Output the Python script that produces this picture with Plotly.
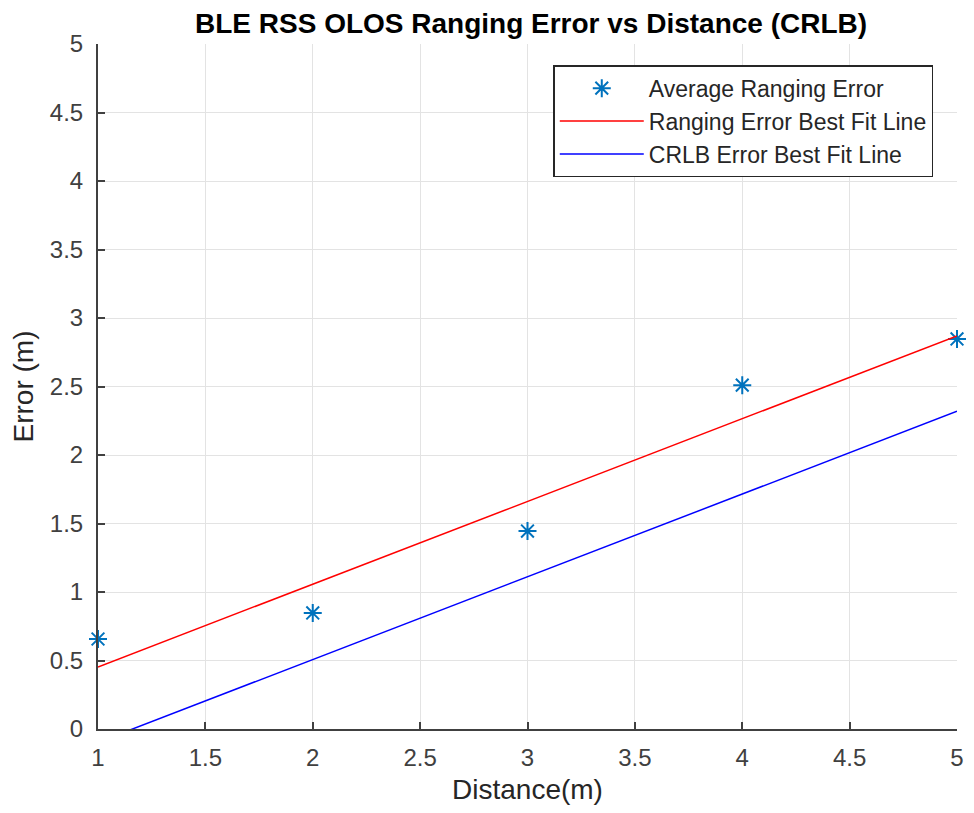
import plotly.graph_objects as go

distance = [1, 2, 3, 4, 5]
avg_error = [0.657, 0.847, 1.445, 2.51, 2.847]

fit_x = [1, 5]
ranging_fit = [0.453, 2.869]
crlb_fit = [-0.097, 2.319]

FONT = "Liberation Sans, Arial, Helvetica"

fig = go.Figure()
fig.add_trace(go.Scatter(x=distance, y=avg_error, mode="markers",
                         name="Average Ranging Error",
                         marker=dict(symbol="asterisk-open", size=15, color="#0072BD",
                                     line=dict(width=2, color="#0072BD")),
                         cliponaxis=False))
fig.add_trace(go.Scatter(x=fit_x, y=ranging_fit, mode="lines",
                         name="Ranging Error Best Fit Line",
                         line=dict(color="#FF0000", width=1.5)))
fig.add_trace(go.Scatter(x=fit_x, y=crlb_fit, mode="lines",
                         name="CRLB Error Best Fit Line",
                         line=dict(color="#0000FF", width=1.5)))

axis_common = dict(showgrid=True, gridcolor="#E3E3E3", gridwidth=1,
                   ticks="inside", ticklen=7, tickcolor="#404040", tickwidth=1.5,
                   showline=True, linecolor="#404040", linewidth=2,
                   zeroline=False, mirror=False, automargin=False,
                   ticklabeloverflow="allow",
                   tickfont=dict(family=FONT, size=24, color="#404040"))

fig.update_layout(
    width=958, height=797,
    paper_bgcolor="white", plot_bgcolor="white",
    margin=dict(l=90, r=9, t=36, b=76),
    title=dict(text="<b>BLE RSS OLOS Ranging Error vs Distance (CRLB)</b>",
               x=0.546, xanchor="center", y=1 - 15 / 797, yanchor="middle",
               font=dict(family=FONT, size=28, color="black")),
    xaxis=dict(range=[1, 5], tickvals=[1, 1.5, 2, 2.5, 3, 3.5, 4, 4.5, 5],
               ticklabelstandoff=6,
               title=dict(text="Distance(m)", standoff=14,
                          font=dict(family=FONT, size=28, color="#262626")),
               **axis_common),
    yaxis=dict(range=[0, 5], tickvals=[0, 0.5, 1, 1.5, 2, 2.5, 3, 3.5, 4, 4.5, 5],
               ticklabelstandoff=8,
               title=dict(text="Error (m)", standoff=14,
                          font=dict(family=FONT, size=28, color="#262626")),
               **axis_common),
    legend=dict(x=0.530, y=0.969, xanchor="left", yanchor="top",
                bgcolor="white", bordercolor="#262626", borderwidth=1.5,
                font=dict(family=FONT, size=23, color="#262626"),
                tracegroupgap=0, itemwidth=84),
    showlegend=True,
)

fig.write_html("out.html")
